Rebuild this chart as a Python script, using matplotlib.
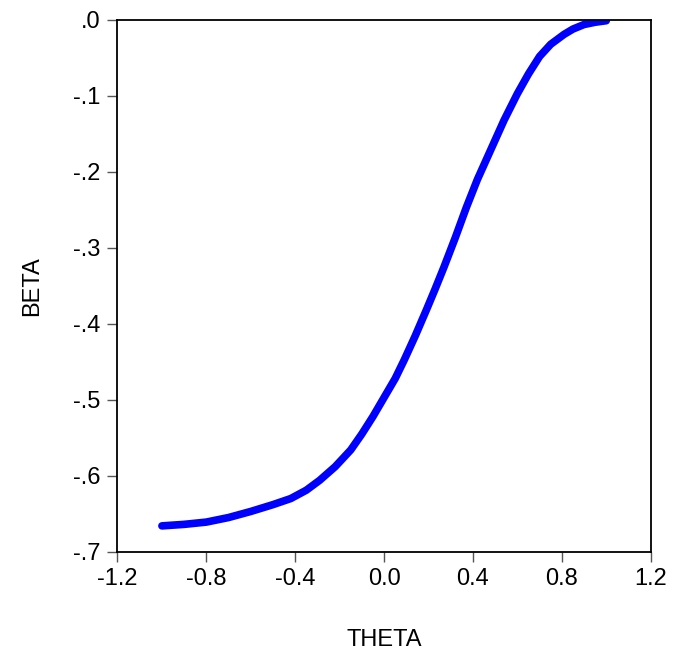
import matplotlib.pyplot as plt

plt.rcParams['font.family'] = ['Liberation Sans', 'DejaVu Sans']

# values
theta = [-1.0, -0.9, -0.8, -0.7, -0.6, -0.5, -0.42, -0.35, -0.29, -0.22,
         -0.15, -0.1, -0.05, 0.0, 0.05, 0.09, 0.14, 0.19, 0.23, 0.27,
         0.32, 0.37, 0.42, 0.48, 0.54, 0.60, 0.65, 0.70, 0.75, 0.81,
         0.85, 0.90, 0.95, 1.0]
beta = [-0.666, -0.664, -0.661, -0.655, -0.647, -0.638, -0.630, -0.619, -0.606, -0.588,
        -0.566, -0.545, -0.522, -0.497, -0.472, -0.448, -0.416, -0.382, -0.354, -0.325,
        -0.287, -0.247, -0.210, -0.171, -0.132, -0.097, -0.071, -0.048, -0.032, -0.019,
        -0.012, -0.006, -0.003, -0.001]

xticks = [-1.2, -0.8, -0.4, 0.0, 0.4, 0.8, 1.2]
xlabels = ['-1.2', '-0.8', '-0.4', '0.0', '0.4', '0.8', '1.2']
yticks = [0.0, -0.1, -0.2, -0.3, -0.4, -0.5, -0.6, -0.7]
ylabels = ['.0', '-.1', '-.2', '-.3', '-.4', '-.5', '-.6', '-.7']

fig = plt.figure(figsize=(6.74, 6.59), dpi=100)
ax = fig.add_axes([0.1743, 0.1628, 0.7911, 0.8069])

ax.plot(theta, beta, color='#0000ff', lw=5.5, solid_capstyle='round',
        solid_joinstyle='round')

ax.set_xlim(-1.2, 1.2)
ax.set_ylim(-0.7, 0.0)
ax.set_xticks(xticks)
ax.set_xticklabels(xlabels)
ax.set_yticks(yticks)
ax.set_yticklabels(ylabels)

for s in ax.spines.values():
    s.set_linewidth(1.3)
    s.set_color('black')
ax.tick_params(direction='out', length=7, width=1, color='#555555',
               labelsize=17, pad=5)

ax.set_xlabel('THETA', fontsize=17, labelpad=28)
ax.set_ylabel('BETA', fontsize=17, labelpad=22)

fig.savefig('out.png', dpi=100)
